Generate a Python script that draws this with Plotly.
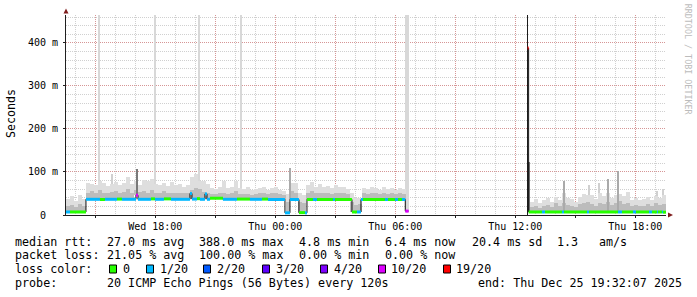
import pandas as pd
import plotly.graph_objects as go

START = "2025-12-24 13:32:07"
END = "2025-12-25 19:32:07"

# ---- median rtt, run-length encoded: start time, median (ms), lost pings of 20
run_starts = [
    "2025-12-24 13:32:07", "2025-12-24 13:44", "2025-12-24 14:32", "2025-12-24 15:14", "2025-12-24 15:29",
    "2025-12-24 16:05", "2025-12-24 16:20", "2025-12-24 17:02", "2025-12-24 17:08", "2025-12-24 17:47",
    "2025-12-24 17:59", "2025-12-24 18:26", "2025-12-24 18:47", "2025-12-24 19:44", "2025-12-24 19:50",
    "2025-12-24 20:05", "2025-12-24 20:14", "2025-12-24 20:29", "2025-12-24 20:35", "2025-12-24 20:44",
    "2025-12-24 21:23", "2025-12-24 22:05", "2025-12-24 22:44", "2025-12-24 23:20", "2025-12-24 23:38",
    "2025-12-25 00:29", "2025-12-25 00:44", "2025-12-25 01:11", "2025-12-25 01:29", "2025-12-25 01:35",
    "2025-12-25 01:53", "2025-12-25 02:05", "2025-12-25 02:53", "2025-12-25 02:59", "2025-12-25 03:50",
    "2025-12-25 04:05", "2025-12-25 04:17", "2025-12-25 04:23", "2025-12-25 05:29", "2025-12-25 05:38",
    "2025-12-25 05:59", "2025-12-25 06:08", "2025-12-25 06:20", "2025-12-25 06:30", "2025-12-25 06:40",
    "2025-12-25 12:37", "2025-12-25 12:40", "2025-12-25 13:20", "2025-12-25 13:29", "2025-12-25 14:20",
    "2025-12-25 14:26", "2025-12-25 15:35", "2025-12-25 15:41", "2025-12-25 17:08", "2025-12-25 17:20",
    "2025-12-25 17:53", "2025-12-25 18:02", "2025-12-25 18:41", "2025-12-25 18:50", "2025-12-25 19:05",
    "2025-12-25 19:08", "2025-12-25 19:20", "2025-12-25 19:23",
]
run_median_ms = [
    7.0, 7.0, 36.5, 36.0, 36.5, 37.0, 36.5, 46.0, 36.5, 37.5,
    36.5, 37.5, 36.5, 50.0, 37.0, 38.0, 36.5, 49.0, 36.5, 39.0,
    36.5, 37.0, 36.5, 37.0, 36.0,
    5.0, 36.0, 5.5, 5.0, 36.0, 36.0, 36.0, 36.0, 36.0, 7.0,
    7.0, 36.0, 36.0, 36.0, 36.0, 36.0, 36.0, 36.0, 9.0, None,
    388.0, 7.0, 7.0, 7.0, 7.0, 7.0, 7.0, 7.0, 7.0, 7.0,
    7.0, 7.0, 7.0, 7.0, 7.0, 7.0, 7.0, 6.5,
]
run_loss = [
    1, 0, 1, 0, 1, 0, 1, 10, 1, 0,
    1, 0, 1, 1, 1, 0, 1, 1, 1, 0,
    1, 0, 1, 0, 1,
    1, 1, 0, 1, 0, 1, 0, 1, 0, 0,
    1, 1, 0, 1, 0, 1, 0, 1, 10, 0,
    19, 0, 1, 0, 1, 0, 1, 0, 1, 0,
    1, 0, 1, 0, 1, 0, 1, 0,
]

# ---- smoke (ping spread), 150 bins of 12 minutes: top of light smoke and darker smoke (ms)
N = None
smoke_max_ms = [
    38, 44, 32, 46, 38, 75, 72, 70, 80, 74,
    68, 72, 77, 70, 74, 89, 72, 78, 70, 82,
    78, 84, 72, 70, 74, 68, 76, 70, 72, 66,
    70, 89, 95, 78, 80, 72, 62, 60, 64, 80,
    62, 66, 80, 62, 60, 64, 58, 60, 62, 64,
    58, 62, 64, 58, 56, 48, 74, 74, 50, 46,
    70, 76, 66, 72, 64, 68, 62, 70, 66, 64,
    60, 50, 40, 40, 62, 60, 64, 62, 58, 64,
    60, 62, 58, 62, 60, N, N, N, N, N,
    N, N, N, N, N, N, N, N, N, N,
    N, N, N, N, N, N, N, N, N, N,
    N, N, N, N, N, N, 30, 38, 28, 35,
    40, 30, 42, 36, 50, 40, 38, 30, 42, 48,
    46, 46, 38, 52, 44, 50, 40, 46, 48, 44,
    54, 36, 40, 34, 38, 42, 36, 44, 40, 46,
]
smoke_mid_ms = [
    22, 24, 18, 26, 20, 52, 55, 50, 58, 52,
    50, 54, 55, 52, 54, 60, 52, 58, 54, 56,
    52, 58, 50, 52, 55, 50, 52, 50, 52, 50,
    52, 58, 62, 60, 54, 52, 48, 48, 50, 52,
    48, 50, 56, 48, 48, 48, 46, 48, 50, 50,
    48, 50, 52, 48, 46, 30, 56, 52, 30, 28,
    52, 55, 50, 52, 50, 52, 48, 50, 52, 50,
    48, 30, 24, 26, 50, 48, 50, 50, 48, 52,
    48, 50, 48, 50, 48, N, N, N, N, N,
    N, N, N, N, N, N, N, N, N, N,
    N, N, N, N, N, N, N, N, N, N,
    N, N, N, N, N, N, 18, 20, 16, 22,
    24, 18, 28, 22, 28, 24, 20, 18, 26, 28,
    30, 26, 22, 28, 26, 30, 24, 28, 32, 26,
    28, 20, 24, 20, 22, 26, 22, 28, 24, 26,
]

# ---- single tall pings (ms); 600 = beyond the top of the graph
spike_times = [
    "2025-12-24 15:11", "2025-12-24 17:59", "2025-12-24 20:11", "2025-12-24 22:17",
    "2025-12-25 06:31", "2025-12-25 06:39",
    "2025-12-24 15:50", "2025-12-24 17:05", "2025-12-25 00:44", "2025-12-25 12:36",
    "2025-12-25 12:41", "2025-12-25 14:26", "2025-12-25 15:41", "2025-12-25 16:11",
    "2025-12-25 16:38", "2025-12-25 17:09", "2025-12-25 19:04", "2025-12-25 19:23",
]
spike_top_ms = [600, 600, 600, 600, 600, 600,
                96, 107, 109, 600, 124, 79, 70, 74, 83, 102, 56, 61]
spike_shade = ["off", "off", "off", "off", "off", "off",
               "light", "dark", "mid", "black", "dark", "mid", "light", "light",
               "mid", "mid", "light", "light"]

loss_levels = [0, 1, 2, 3, 4, 10, 19]
loss_labels = ["0", "1/20", "2/20", "3/20", "4/20", "10/20", "19/20"]
loss_colors = ["#26ff00", "#00b8ff", "#0059ff", "#5e00ff", "#7e00ff", "#dd00ff", "#ff0000"]

y_tick_values = [0, 0.1, 0.2, 0.3, 0.4]
y_tick_labels = ["0\u00a0\u00a0", "100 m", "200 m", "300 m", "400 m"]

stats_rows = [
    [("median rtt:", 15.4), ("27.0 ms avg", 106.5), ("388.0 ms max", 199.2), ("4.8 ms min", 299.4),
     ("6.4 ms now", 384.9), ("20.4 ms sd", 471.5), ("1.3", 557.2), ("am/s", 599.3)],
    [("packet loss:", 15.2), ("21.05 % avg", 106.5), ("100.00 % max", 198.9), ("0.00 % min", 299.1),
     ("0.00 % now", 384.8)],
    [("loss color:", 15.2)],
    [("probe:", 15.2), ("20 ICMP Echo Pings (56 Bytes) every 120s", 106.5),
     ("end: Thu Dec 25 19:32:07 2025", 477.5)],
]
row_centers = [241.6, 255.0, 269.2, 282.6]
loss_box_left = [109, 146, 203, 262, 320, 378, 443]
loss_label_left = [122.5, 159.6, 217.4, 275.8, 334.1, 391.3, 455.6]

# ------------------------------------------------------------------
W, H = 697, 297
L, R, T, B = 66, 31, 15, 82
PW, PH = W - L - R, H - T - B
MONO = "DejaVu Sans Mono"


def px2x(px):
    return (px - L) / PW


def py2y(py):
    return (T + PH - py) / PH


t_start = list(pd.to_datetime(run_starts, format="mixed"))
t_end = t_start[1:] + [pd.Timestamp(END)]


def median_at(t):
    for a, b, v in zip(t_start, t_end, run_median_ms):
        if a <= t < b:
            return v
    return None


fig = go.Figure()

shade_colors = {"off": "#d8d8d8", "light": "#d0d0d0", "mid": "#aaaaaa", "dark": "#7a7a7a", "black": "#1c1c1c"}


def add_spikes(shades):
    for sh in shades:
        xs, bs, hs = [], [], []
        for t, top, s in zip(spike_times, spike_top_ms, spike_shade):
            if s != sh:
                continue
            tt = pd.Timestamp(t)
            base = median_at(tt) or 0.0
            xs.append(tt)
            bs.append(base / 1000)
            hs.append((top - base) / 1000)
        if xs:
            fig.add_trace(go.Bar(x=xs, y=hs, base=bs,
                                 width=(180000 if sh == "black" else 330000),
                                 marker=dict(color=shade_colors[sh], line=dict(width=0)),
                                 hoverinfo="skip", showlegend=False))


add_spikes(["off", "light"])

centers = pd.date_range(START, periods=len(smoke_max_ms), freq="12min") + pd.Timedelta("6min")
for arr, col in [(smoke_max_ms, "#dedede"), (smoke_mid_ms, "#bcbcbc")]:
    xs, bs, hs = [], [], []
    for c, top in zip(centers, arr):
        if top is None:
            continue
        base = median_at(c)
        if base is None or top <= base:
            continue
        xs.append(c)
        bs.append(base / 1000)
        hs.append((top - base) / 1000)
    fig.add_trace(go.Bar(x=xs, y=hs, base=bs, width=720000,
                         marker=dict(color=col, line=dict(width=0)),
                         hoverinfo="skip", showlegend=False))

add_spikes(["mid", "dark", "black"])

# thin black median
bx, by = [], []
for a, b, v in zip(t_start, t_end, run_median_ms):
    if v is None:
        bx.append(None)
        by.append(None)
        continue
    bx += [a, b]
    by += [v / 1000, v / 1000]
fig.add_trace(go.Scatter(x=bx, y=by, mode="lines", line=dict(color="#101010", width=1),
                         hoverinfo="skip", showlegend=False))

# loss coloured median
for lvl, col in zip(loss_levels, loss_colors):
    xs, ys = [], []
    for a, b, v, lo in zip(t_start, t_end, run_median_ms, run_loss):
        if v is None or lo != lvl:
            continue
        xs += [a, b, None]
        ys += [v / 1000, v / 1000, None]
    if xs:
        fig.add_trace(go.Scatter(x=xs, y=ys, mode="lines", line=dict(color=col, width=3),
                                 hoverinfo="skip", showlegend=False))

xt = pd.date_range("2025-12-24 15:00", "2025-12-25 18:00", freq="3h")
xtext = [t.strftime("%a %H:%M") if t.hour % 6 == 0 else "" for t in xt]
GRID = "rgba(150,150,150,0.45)"
MGRID = "rgba(222,79,79,0.45)"
AXIS = "#1f1f1f"

fig.update_layout(
    width=W, height=H, autosize=False,
    margin=dict(l=L, r=R, t=T, b=B, pad=0),
    paper_bgcolor="white", plot_bgcolor="white",
    barmode="overlay", bargap=0,
    showlegend=False,
    font=dict(family=MONO, size=10, color="black"),
    xaxis=dict(type="date", range=[START, END], tickvals=list(xt), ticktext=xtext,
               showgrid=True, gridcolor=MGRID, gridwidth=1, griddash="1px,1px",
               minor=dict(dtick=3600000, tick0="2025-12-24 00:00", showgrid=True,
                          gridcolor=GRID, gridwidth=1, griddash="1px,1px"),
               showline=True, linecolor=AXIS, linewidth=1, zeroline=False,
               ticks="outside", ticklen=2, tickcolor=AXIS,
               tickfont=dict(family=MONO, size=10, color="black"), fixedrange=True),
    yaxis=dict(range=[0, 0.465], tickvals=y_tick_values, ticktext=y_tick_labels,
               showgrid=True, gridcolor=MGRID, gridwidth=1, griddash="1px,1px",
               minor=dict(dtick=0.02, tick0=0, showgrid=True, gridcolor=GRID,
                          gridwidth=1, griddash="1px,1px"),
               showline=True, linecolor=AXIS, linewidth=1, zeroline=False,
               ticks="outside", ticklen=2, tickcolor=AXIS, ticklabelstandoff=3,
               tickfont=dict(family=MONO, size=10, color="black"), fixedrange=True),
)

ann = []
ann.append(dict(text="Seconds", x=px2x(11), y=py2y(114), xref="paper", yref="paper",
                textangle=-90, showarrow=False, xanchor="center", yanchor="middle",
                font=dict(family=MONO, size=11.6, color="black")))
ann.append(dict(text="RRDTOOL / TOBI OETIKER", x=px2x(688.3), y=py2y(60), xref="paper", yref="paper",
                textangle=90, showarrow=False, xanchor="center", yanchor="middle",
                font=dict(family=MONO, size=8.4, color="#bcbcbc")))
for row, cy in zip(stats_rows, row_centers):
    for txt, x in row:
        ann.append(dict(text=txt, x=px2x(x), y=py2y(cy), xref="paper", yref="paper",
                        showarrow=False, xanchor="left", yanchor="middle",
                        borderpad=0, borderwidth=0,
                        font=dict(family=MONO, size=11.7, color="black")))
for lab, x in zip(loss_labels, loss_label_left):
    ann.append(dict(text=lab, x=px2x(x), y=py2y(row_centers[2]), xref="paper", yref="paper",
                    showarrow=False, xanchor="left", yanchor="middle",
                    borderpad=0, borderwidth=0,
                    font=dict(family=MONO, size=11.7, color="black")))
fig.update_layout(annotations=ann)

shapes = []
for left, col in zip(loss_box_left, loss_colors):
    shapes.append(dict(type="rect", xref="paper", yref="paper",
                       x0=px2x(left + 0.5), x1=px2x(left + 7.5),
                       y0=py2y(265.0), y1=py2y(273.0),
                       fillcolor=col, line=dict(color="black", width=1)))
ARROW = "#801f1f"
shapes.append(dict(type="path", xref="paper", yref="paper", xsizemode="pixel", ysizemode="pixel",
                   xanchor=0, yanchor=1, path="M -2.5,1.5 L 2.5,1.5 L 0,6.5 Z",
                   fillcolor=ARROW, line=dict(width=0)))
shapes.append(dict(type="path", xref="paper", yref="paper", xsizemode="pixel", ysizemode="pixel",
                   xanchor=1, yanchor=0, path="M 2,-2.5 L 2,2.5 L 7,0 Z",
                   fillcolor=ARROW, line=dict(width=0)))
fig.update_layout(shapes=shapes)

fig.write_html("out.html", config={"displayModeBar": False, "staticPlot": True})
